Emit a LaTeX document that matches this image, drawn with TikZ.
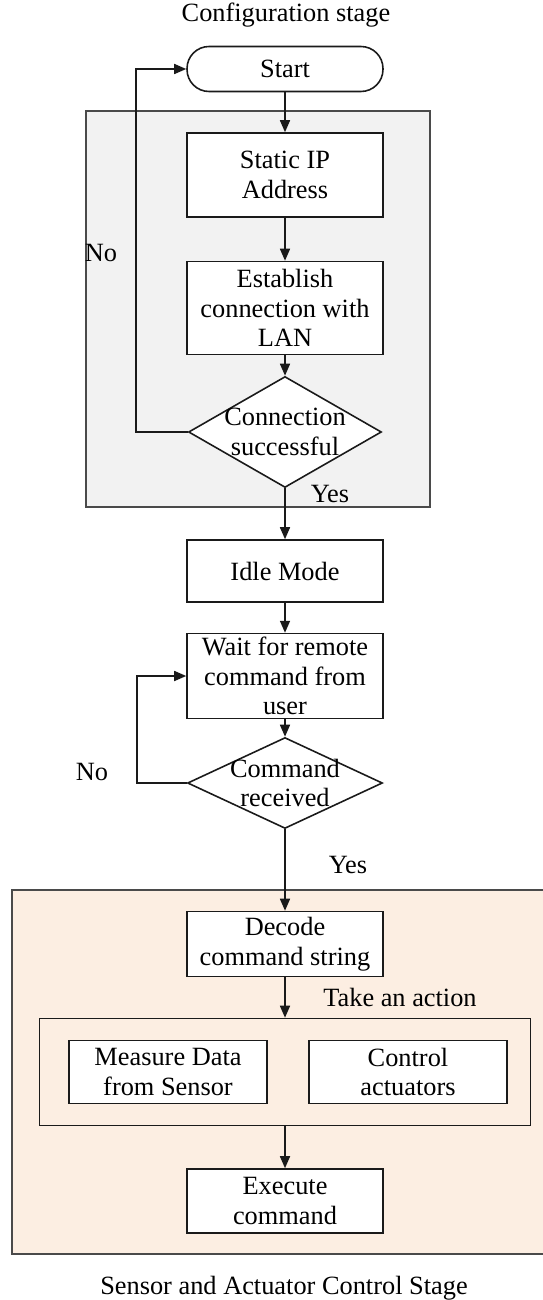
\documentclass[tikz,border=0pt]{standalone}
\usepackage{fontspec}
\setmainfont{Liberation Serif}
\usetikzlibrary{arrows.meta,shapes.geometric,positioning}
\definecolor{ink}{HTML}{1A1A1A}
\definecolor{ink2}{HTML}{4A4A4A}
\definecolor{cfgbg}{HTML}{F2F2F2}
\definecolor{ctlbg}{HTML}{FCEEE2}
\newcommand{\dfont}{\fontsize{15}{16.8}\selectfont}
\tikzset{
  blk/.style={draw=ink, line width=0.9pt, fill=white, align=center, inner sep=2pt,
              minimum width=3.92cm},
  term/.style={draw=ink, line width=0.9pt, fill=white, rounded corners=0.44cm,
               minimum width=3.92cm, minimum height=0.9cm, inner sep=2pt},
  dec/.style={draw=ink, line width=0.9pt, fill=white, diamond, inner sep=0pt},
  dectxt/.style={align=center, inner sep=0pt},
  frame/.style={draw=ink2, line width=1.3pt},
  arr/.style={-{Triangle[length=2.4mm,width=2mm]}, line width=0.9pt, draw=ink},
  lbl/.style={inner sep=1pt},
}
\begin{document}
\begin{tikzpicture}[x=0.02cm, y=-0.02cm, font=\dfont]
\useasboundingbox (0,0) rectangle (543,1300);
% stage frames
\node[frame, fill=cfgbg, minimum width=6.88cm, minimum height=7.92cm] (cfgframe) at (258,309) {};
\node[frame, fill=ctlbg, minimum width=10.76cm, minimum height=7.28cm] (ctlframe) at (281,1072) {};
\node[lbl] (cfgtitle) at (286,15) {Configuration stage};
\node[lbl] (ctltitle) at (284,1288) {Sensor and Actuator Control Stage};
% configuration stage
\node[term] (start) at (285,69) {Start};
\node[blk, minimum height=1.68cm] (ip)  at (285,175) {Static IP\\Address};
\node[blk, minimum height=1.86cm] (lan) at (285,308) {Establish\\connection with\\LAN};
\node[dec, minimum width=3.86cm, minimum height=2.22cm,
      label={[dectxt]center:Connection\\successful}] (conn) at (285,432) {};
% idle / wait
\node[blk, minimum height=1.24cm] (idle) at (285,571) {Idle Mode};
\node[blk, minimum height=1.68cm] (wait) at (285,676) {Wait for remote\\command from\\user};
\node[dec, minimum width=3.9cm, minimum height=1.82cm,
      label={[dectxt]center:Command\\received}] (cmd) at (285,783) {};
% control stage
\node[blk, minimum height=1.3cm] (decode) at (285,944) {Decode\\command string};
\node[draw=ink, line width=0.9pt, minimum width=9.82cm, minimum height=2.14cm] (act) at (285,1072) {};
\node[blk, minimum width=3.96cm, minimum height=1.26cm] (measure) at (168,1072) {Measure Data\\from Sensor};
\node[blk, minimum width=3.96cm, minimum height=1.26cm] (control) at (408,1072) {Control\\actuators};
\node[blk, minimum height=1.28cm] (exec) at (285,1201) {Execute\\command};
% labels
\node[lbl] (no1)  at (101,253) {No};
\node[lbl] (yes1) at (330,494) {Yes};
\node[lbl] (no2)  at (92,772)  {No};
\node[lbl] (yes2) at (348,865) {Yes};
\node[lbl] (take) at (400,997) {Take an action};
% flow
\draw[arr] (start) -- (ip);
\draw[arr] (ip) -- (lan);
\draw[arr] (lan) -- (conn);
\draw[arr] (conn.west) -- ++(-52,0) |- (start.west);
\draw[arr] (conn) -- (idle);
\draw[arr] (idle) -- (wait);
\draw[arr] (wait) -- (cmd);
\draw[arr] (cmd.west) -- ++(-50,0) |- (wait.west);
\draw[arr] (cmd) -- (decode);
\draw[arr] (decode) -- (act);
\draw[arr] (act) -- (exec);
\end{tikzpicture}
\end{document}
